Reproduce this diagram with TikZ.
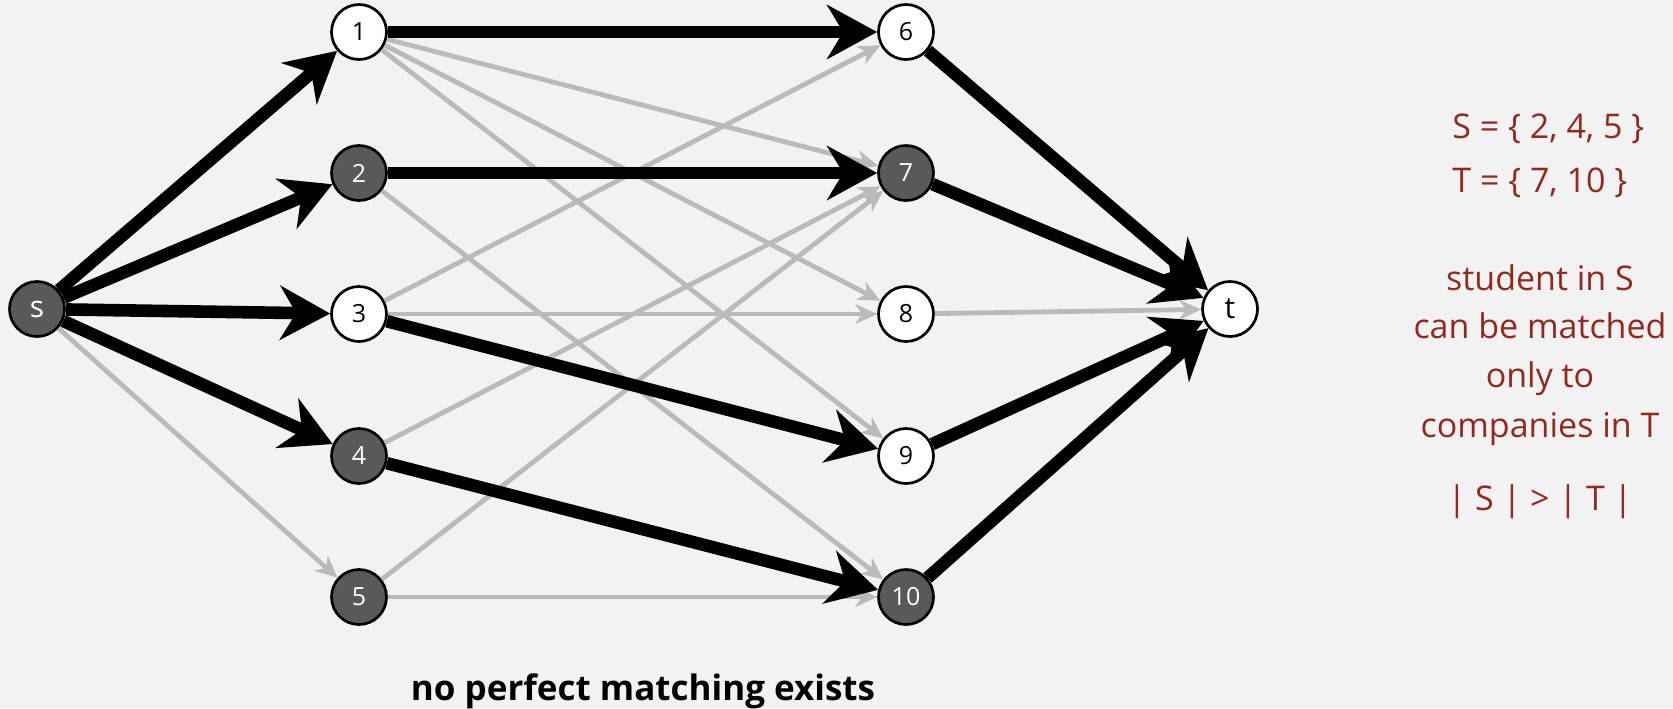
\documentclass[tikz,border=0pt]{standalone}
\usepackage{fontspec}
\setmainfont{Open Sans}
\usetikzlibrary{arrows.meta}
\definecolor{bggray}{RGB}{242,242,242}
\definecolor{darkfill}{RGB}{89,89,89}
\definecolor{edgegray}{RGB}{186,186,186}
\definecolor{notered}{RGB}{146,41,33}

\tikzset{
	vertex/.style={circle, draw, line width=1.35pt, minimum size=27.5pt, inner sep=0pt, fill=white, font=\fontsize{12.5}{14}\selectfont},
	chosen/.style={vertex, fill=darkfill, text=white},
	flow/.style={line width=6.3pt, -{Stealth[length=25pt, width=27pt, inset=8pt]}},
	noflow/.style={edgegray, line width=2.4pt, -{Stealth[length=11pt, width=10pt, inset=3.5pt]}},
	note/.style={notered, inner sep=0pt, font=\fontsize{17}{20}\selectfont},
}

\begin{document}
\begin{tikzpicture}[x=0.5pt, y=-0.5pt]
		\fill [bggray] (0,0) rectangle (1673,708);
		\useasboundingbox (0,0) rectangle (1673,708);
		\node [chosen, font=\fontsize{15}{17}\selectfont] (s) at (37,309) {s};
		\node [vertex, font=\fontsize{15}{17}\selectfont] (t) at (1230,309) {t};
		\foreach \i/\y/\k in {1/32/vertex, 2/173/chosen, 3/314/vertex, 4/456/chosen, 5/597/chosen}{
			\node [\k] (st\i) at (359,\y) {\i};
		}
		\foreach \i/\y/\k in {6/32/vertex, 7/173/chosen, 8/314/vertex, 9/456/vertex, 10/597/chosen}{
			\node [\k] (co\i) at (906,\y) {\i};
		}
		\foreach \a/\b in {st1/co7, st1/co8, st1/co9, st2/co10, st3/co6, st3/co8, st4/co7, st5/co7, st5/co10, s/st5, co8/t}{
			\draw [noflow] (\a) -- (\b);
		}
		\foreach \a/\b in {s/st1, s/st2, s/st3, s/st4, st1/co6, st2/co7, st3/co9, st4/co10, co6/t, co7/t, co9/t, co10/t}{
			\draw [flow] (\a) -- (\b);
		}
		\node [anchor=base, font=\bfseries\fontsize{17.5}{20}\selectfont] (verdict) at (643,700) {no perfect matching exists};
		\node [note, anchor=base west] (sset) at (1452,138) {S = \{ 2, 4, 5 \}};
		\node [note, anchor=base west] (tset) at (1452,192) {T = \{ 7, 10 \}};
		\foreach \txt/\y [count=\i] in {student in S/290, can be matched/338, only to/387, companies in T/437}{
			\node [note, anchor=base] (claim\i) at (1540,\y) {\txt};
		}
		\node [note, anchor=base] (sizes) at (1540,510) {| S | > | T |};
	\end{tikzpicture}
\end{document}
